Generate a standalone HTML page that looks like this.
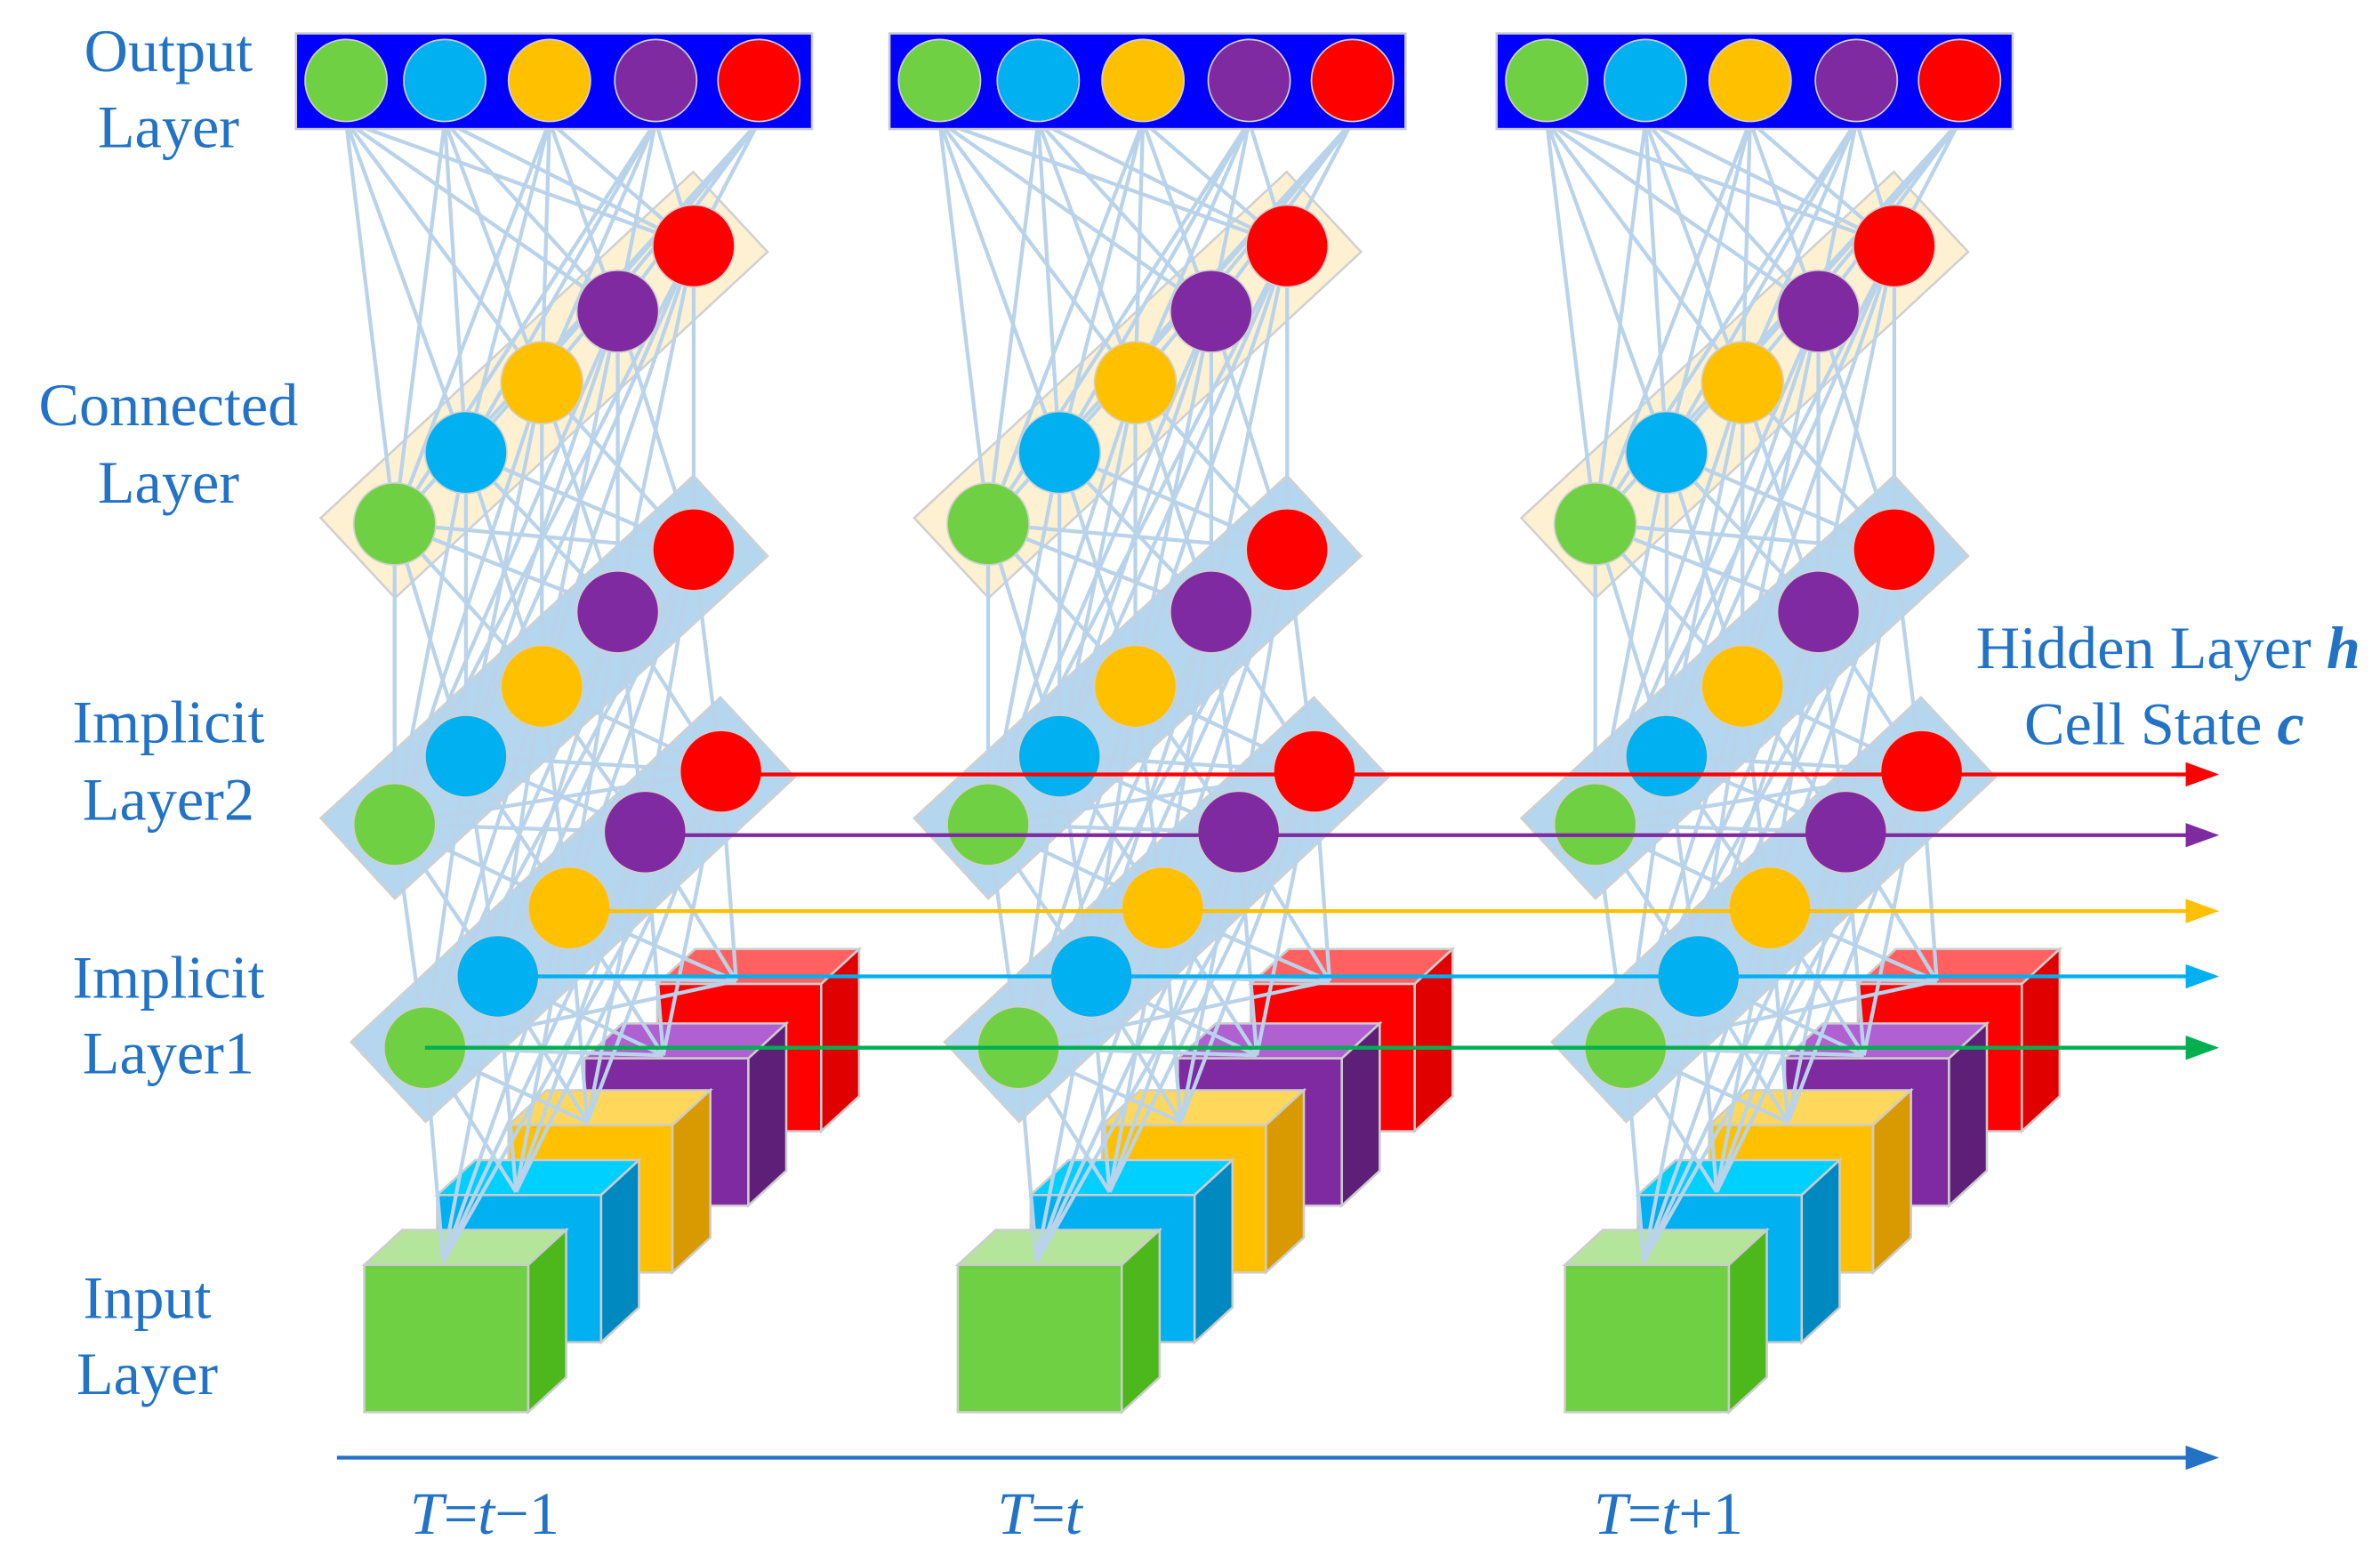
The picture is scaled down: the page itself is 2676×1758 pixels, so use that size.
<!DOCTYPE html>
<html><head><meta charset="utf-8"><style>
html,body{margin:0;padding:0;background:#fff;width:2676px;height:1758px;overflow:hidden}
svg{display:block}
text{font-family:"Liberation Serif","DejaVu Serif",serif;fill:#2272c6;font-size:40px}
</style></head><body>
<svg id="s" width="2676" height="1758" viewBox="0 0 1568 1030" preserveAspectRatio="none" xmlns="http://www.w3.org/2000/svg">
<g id="g"></g>
<text x="111" y="47" text-anchor="middle">Output</text>
<text x="111" y="97" text-anchor="middle">Layer</text>
<text x="111" y="280" text-anchor="middle">Connected</text>
<text x="111" y="331" text-anchor="middle">Layer</text>
<text x="111" y="489" text-anchor="middle">Implicit</text>
<text x="111" y="540" text-anchor="middle">Layer2</text>
<text x="111" y="657" text-anchor="middle">Implicit</text>
<text x="111" y="707" text-anchor="middle">Layer1</text>
<text x="97" y="868" text-anchor="middle">Input</text>
<text x="97" y="918" text-anchor="middle">Layer</text>
<text x="1555" y="440" text-anchor="end">Hidden Layer <tspan font-weight="bold" font-style="italic">h</tspan></text>
<text x="1518" y="490" text-anchor="end">Cell State <tspan font-weight="bold" font-style="italic">c</tspan></text>
<text x="270" y="1010"><tspan font-style="italic">T</tspan>=<tspan font-style="italic">t</tspan>−1</text>
<text x="657" y="1010"><tspan font-style="italic">T</tspan>=<tspan font-style="italic">t</tspan></text>
<text x="1050" y="1010"><tspan font-style="italic">T</tspan>=<tspan font-style="italic">t</tspan>+1</text>
</svg>
<script>
var g=document.getElementById('g'),h='';
var C=['#6fd043','#00b0f0','#ffc000','#7f2aa0','#ff0000'];
function ln(x1,y1,x2,y2,c,w){h+='<line x1="'+x1+'" y1="'+y1+'" x2="'+x2+'" y2="'+y2+'" stroke="'+c+'" stroke-width="'+w+'"/>';}
function circ(x,y,c){h+='<circle cx="'+x+'" cy="'+y+'" r="27" fill="'+c+'" stroke="#d0d0d0" stroke-width="1"/>';}
function panel(p,fill){var a=p[0],b=p[4];var dx=b[0]-a[0],dy=b[1]-a[1],L=Math.hypot(dx,dy);var ux=dx/L,uy=dy/L,vx=-uy,vy=ux;var E=33,W=36;
var pts=[[a[0]-ux*E+vx*W,a[1]-uy*E+vy*W],[b[0]+ux*E+vx*W,b[1]+uy*E+vy*W],[b[0]+ux*E-vx*W,b[1]+uy*E-vy*W],[a[0]-ux*E-vx*W,a[1]-uy*E-vy*W]];
h+='<polygon points="'+pts.map(function(q){return q[0].toFixed(1)+','+q[1].toFixed(1)}).join(' ')+'" fill="'+fill+'" stroke="#d0d0d0" stroke-width="1.5"/>';}
function cube(x,y,f,t,s){var w=108,hh=97,d=25,e=23;
h+='<polygon points="'+x+','+y+' '+(x+d)+','+(y-e)+' '+(x+w+d)+','+(y-e)+' '+(x+w)+','+y+'" fill="'+t+'" stroke="#ccc" stroke-width="1.5"/>';
h+='<polygon points="'+(x+w)+','+y+' '+(x+w+d)+','+(y-e)+' '+(x+w+d)+','+(y+hh-e)+' '+(x+w)+','+(y+hh)+'" fill="'+s+'" stroke="#ccc" stroke-width="1.5"/>';
h+='<rect x="'+x+'" y="'+y+'" width="'+w+'" height="'+hh+'" fill="'+f+'" stroke="#ccc" stroke-width="1.5"/>';}
var CF=[['#6fd043','#b5e59b','#4cb81b'],['#00b0f0','#00d0ff','#0088c0'],['#ffc000','#ffd75a','#d99a00'],['#7f2aa0','#b060d0','#5e1f78'],['#ff0000','#ff6060','#e00000']];
var offs=[0,391,791];
offs.forEach(function(o){
 var out=[228,293,362,432,500].map(function(x){return [x+o,53]});
 var outB=out.map(function(p){return [p[0],80]});
 var con=[[260,345],[307,298],[357,252],[407,205],[457,162]].map(function(p){return [p[0]+o,p[1]]});
 var l2=[[260,543],[307,498],[357,452],[407,403],[457,362]].map(function(p){return [p[0]+o,p[1]]});
 var l1=[[280,690],[328,643],[375,598],[425,548],[475,508]].map(function(p){return [p[0]+o,p[1]]});
 var cb=[[240,833],[288,787],[335,741],[385,697],[433,648]];
 var ct=cb.map(function(p){return [p[0]+o+52,p[1]-2]});
 panel(con,'#fdf1d2');panel(l2,'#b4d6ee');panel(l1,'#b4d6ee');
 for(var i=4;i>=0;i--){var q=cb[i];cube(q[0]+o,q[1],CF[i][0],CF[i][1],CF[i][2]);}
 var lc='#b9d3ea',lw=2.5;
 outB.forEach(function(a){con.forEach(function(b){ln(a[0],a[1],b[0],b[1],lc,lw)})});
 con.forEach(function(a){l2.forEach(function(b){ln(a[0],a[1],b[0],b[1],lc,lw)})});
 l2.forEach(function(a){l1.forEach(function(b){ln(a[0],a[1],b[0],b[1],lc,lw)})});
 l1.forEach(function(a){ct.forEach(function(b){ln(a[0],a[1],b[0],b[1],lc,lw)})});
 h+='<rect x="'+(195+o)+'" y="22" width="340" height="63" fill="#0000ff" stroke="#ccc" stroke-width="1.5"/>';
 out.forEach(function(p,i){circ(p[0],p[1],C[i])});
 con.forEach(function(p,i){circ(p[0],p[1],C[i])});
 l2.forEach(function(p,i){circ(p[0],p[1],C[i])});
 l1.forEach(function(p,i){circ(p[0],p[1],C[i])});
});
var AC=['#00b050','#00b0f0','#ffc000','#7f2aa0','#ff0000'];
var AY=[690,643,600,550,510],AX=[280,328,375,425,475];
for(var i=0;i<5;i++){ln(AX[i],AY[i],1442,AY[i],AC[i],2.5);h+='<polygon points="1440,'+(AY[i]-8)+' 1462,'+AY[i]+' 1440,'+(AY[i]+8)+'" fill="'+AC[i]+'"/>';}
ln(222,960,1442,960,'#2272c6',2.5);h+='<polygon points="1440,952 1462,960 1440,968" fill="#2272c6"/>';
g.innerHTML=h;
</script>
</body></html>
